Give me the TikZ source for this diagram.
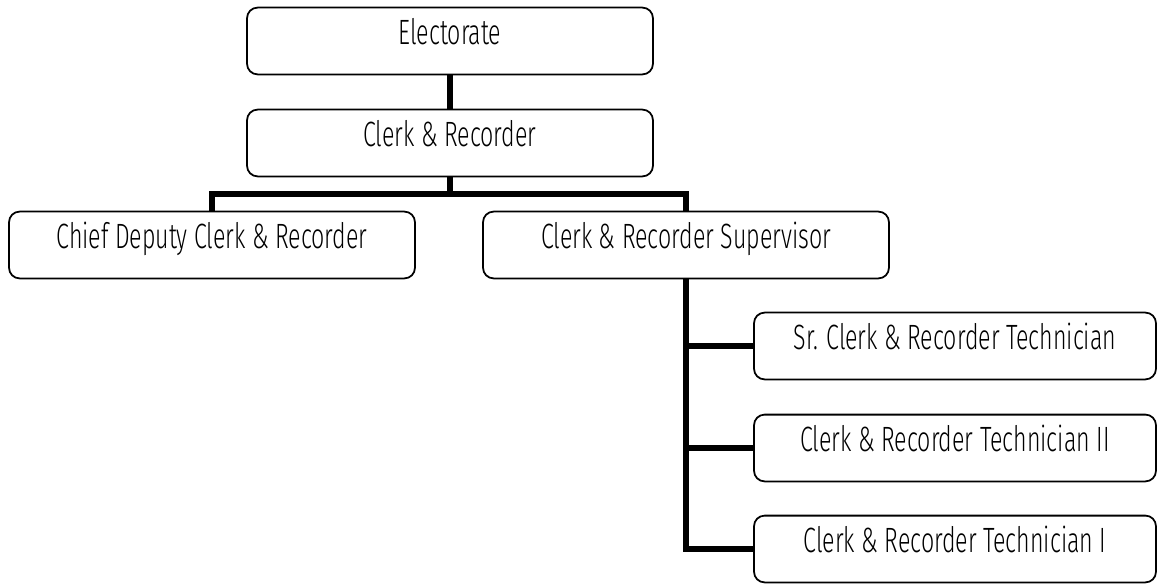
\documentclass[tikz,border=0pt]{standalone}
\usepackage{fontspec}
\setmainfont{Fira Sans Light}[FakeStretch=0.66]
\usepackage{tikz}

\begin{document}
\begin{tikzpicture}[x=0.02cm,y=-0.02cm,
    post/.style={draw, rounded corners=6pt, line width=1pt, inner sep=0pt,
        minimum width=8.12cm, text height=21pt, text depth=17pt,
        font=\fontsize{20}{22}\selectfont},
    link/.style={line width=3.4pt, line join=miter}]
    \useasboundingbox (0,0) rectangle (1158,584);
    \node[post] (elect) at (450,41) {Electorate};
    \node[post] (clerk) at (450,143) {Clerk \& Recorder};
    \node[post] (chief) at (212,245) {Chief Deputy Clerk \& Recorder};
    \node[post] (superv) at (686,245) {Clerk \& Recorder Supervisor};
    \node[post, minimum width=8.04cm] (srtech) at (955,346) {Sr. Clerk \& Recorder Technician};
    \node[post, minimum width=8.04cm] (tech2) at (955,448) {Clerk \& Recorder Technician II};
    \node[post, minimum width=8.04cm] (tech1) at (955,549) {Clerk \& Recorder Technician I};
    \coordinate (bus) at (450,194);
    \draw[link] (elect) -- (clerk);
    \draw[link] (clerk) -- (bus);
    \draw[link] (chief.north) |- (bus) -| (superv.north);
    \draw[link] (superv.south) |- (srtech.west);
    \draw[link] (superv.south) |- (tech2.west);
    \draw[link] (superv.south) |- (tech1.west);
\end{tikzpicture}
\end{document}
